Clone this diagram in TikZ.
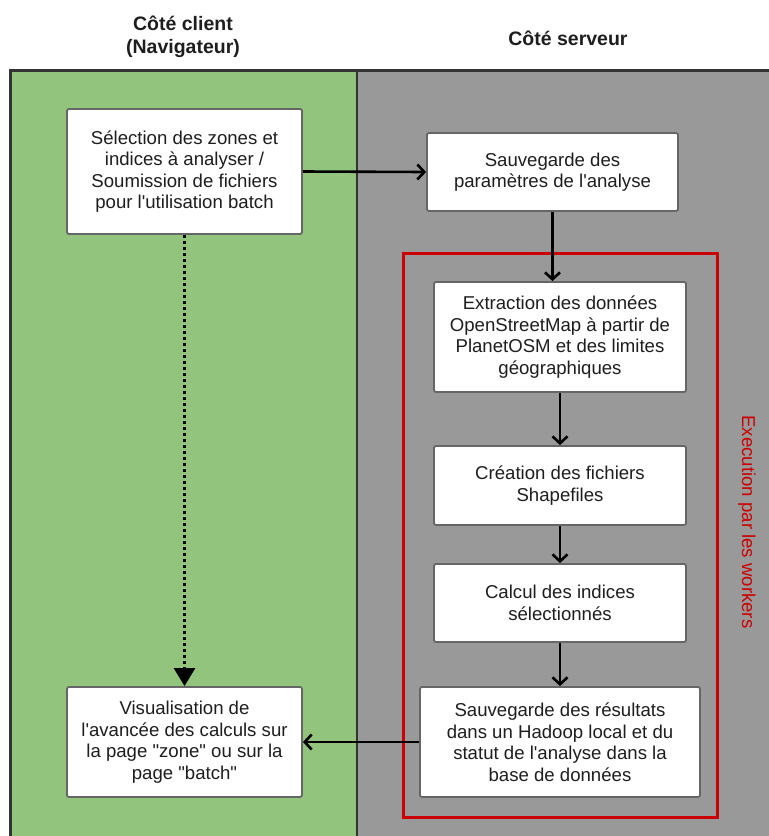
\documentclass[tikz,border=0pt]{standalone}
\usepackage{fontspec}
\setmainfont{Liberation Sans}
\usetikzlibrary{arrows.meta}
\definecolor{lanegreen}{HTML}{93C47D}
\definecolor{lanegray}{HTML}{999999}
\definecolor{boxborder}{HTML}{666666}
\definecolor{framec}{HTML}{333333}
\definecolor{workred}{HTML}{CC0000}
\definecolor{txt}{HTML}{1E1E1E}
\begin{document}
\begin{tikzpicture}[x=1pt,y=-1pt,
  box/.style={draw=boxborder,line width=1.8pt,fill=white,rounded corners=2pt,align=center,inner sep=0pt,text=txt,font=\fontsize{18.6}{21.5}\selectfont},
  conn/.style={line width=2.6pt,-{Straight Barb[length=7pt,width=15pt]}},
  dotconn/.style={line width=2.6pt,dash pattern=on 3pt off 3pt,-{Triangle[length=18pt,width=21pt]}},
  hdr/.style={font=\fontsize{19.5}{23}\selectfont\bfseries,align=center,text=txt}]
\useasboundingbox (0,0) rectangle (769,836);
% lanes
\fill[lanegreen] (10,70) rectangle (357,836);
\fill[lanegray] (357,70) rectangle (769,836);
\draw[framec,line width=3pt] (10,836) -- (10,70) -- (769,70);
\draw[framec,line width=2.5pt] (357,70) -- (357,836);
% headers
\node[hdr] (hc) at (183,37) {Côté client\\(Navigateur)};
\node[hdr] (hs) at (568,38) {Côté serveur};
% workers container
\node[draw=workred,line width=3pt,minimum width=314pt,minimum height=564pt,inner sep=0pt] (workers) at (560,535) {};
\node[rotate=-90,text=workred,font=\fontsize{18.6}{21.5}\selectfont] (lbl) at (747,522) {Execution par les workers};
% boxes
\node[box,minimum width=235pt,minimum height=125pt] (sel) at (184.5,171.5) {Sélection des zones et\\indices à analyser /\\Soumission de fichiers\\pour l\textquotesingle utilisation batch};
\node[box,minimum width=251pt,minimum height=78pt] (par) at (552.5,172) {Sauvegarde des\\paramètres de l\textquotesingle analyse};
\node[box,minimum width=252pt,minimum height=110pt] (ext) at (560,337) {Extraction des données\\OpenStreetMap à partir de\\PlanetOSM et des limites\\géographiques};
\node[box,minimum width=252pt,minimum height=79pt] (cre) at (560,485.5) {Création des fichiers\\Shapefiles};
\node[box,minimum width=252pt,minimum height=78pt] (cal) at (560,603) {Calcul des indices\\sélectionnés};
\node[box,minimum width=280pt,minimum height=110pt] (res) at (560,742) {Sauvegarde des résultats\\dans un Hadoop local et du\\statut de l\textquotesingle analyse dans la\\base de données};
\node[box,minimum width=235pt,minimum height=110pt] (vis) at (184.5,742) {Visualisation de\\l\textquotesingle avancée des calculs sur\\la page \textquotedbl zone\textquotedbl{} ou sur la\\page \textquotedbl batch\textquotedbl};
% connectors
\draw[conn] (sel.east) -- (par.west);
\draw[conn] (par.south) -- (par.south |- ext.north);
\draw[conn] (ext.south) -- (cre.north);
\draw[conn] (cre.south) -- (cal.north);
\draw[conn] (cal.south) -- (res.north);
\draw[conn] (res.west) -- (vis.east);
\draw[dotconn] (sel.south) -- (vis.north);
\end{tikzpicture}
\end{document}
